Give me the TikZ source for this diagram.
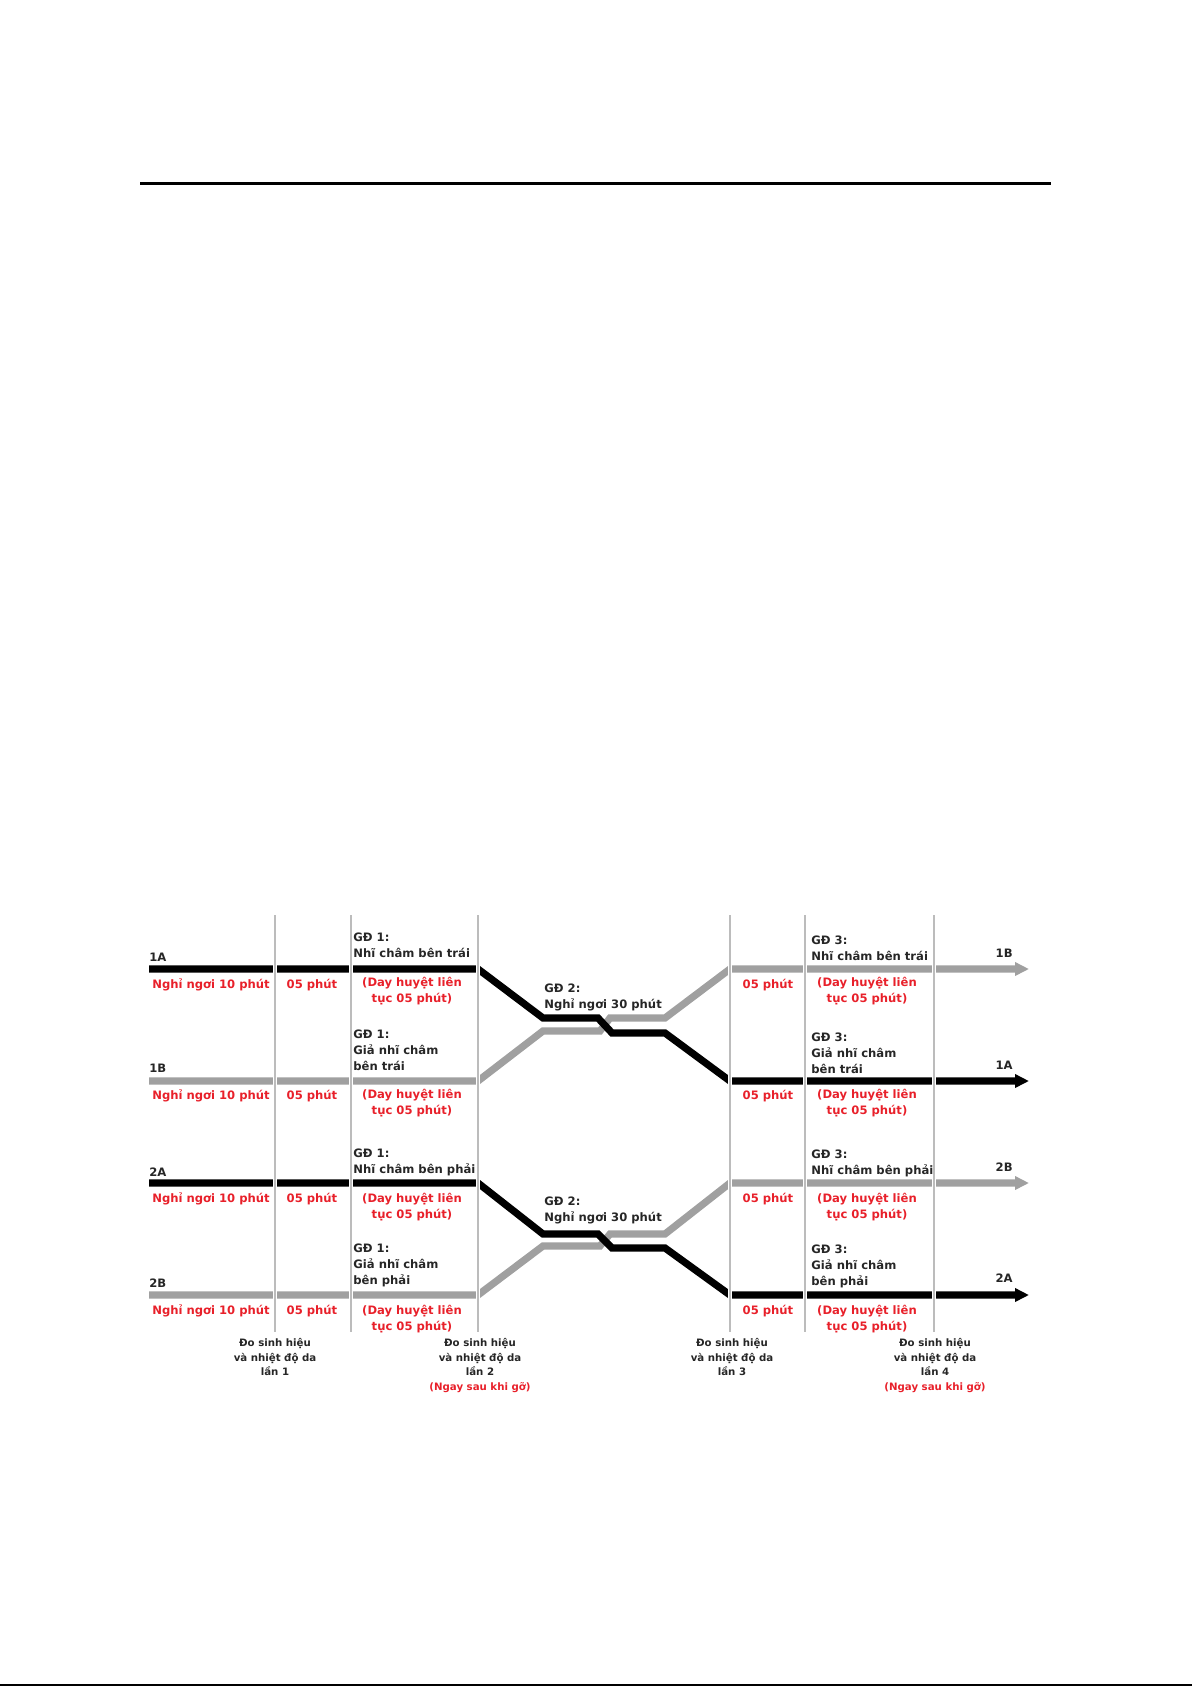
\documentclass[tikz,border=0pt]{standalone}
\usepackage{fontspec}
\setmainfont{DejaVu Sans}
\usetikzlibrary{arrows.meta}
\definecolor{noteRed}{RGB}{232,32,42}
\definecolor{lineGray}{RGB}{160,160,160}
\definecolor{ruleGray}{RGB}{188,188,188}
\newcommand{\chartfont}{\bfseries\fontsize{5.8}{8}\selectfont}
\newcommand{\footfont}{\bfseries\fontsize{5.1}{7.3}\selectfont}

\begin{document}
\begin{tikzpicture}[x=0.5pt, y=-0.5pt]
  \tikzstyle{txt} = [font=\chartfont, inner sep=0pt, text=black!85]
  \tikzstyle{tag} = [txt, anchor=base west]
  \tikzstyle{endtag} = [txt, anchor=base east]
  \tikzstyle{phase} = [txt, align=left, anchor=north west]
  \tikzstyle{note} = [txt, text=noteRed, align=center]
  \tikzstyle{foot} = [txt, font=\footfont, align=center, anchor=north]
  \tikzstyle{blk} = [line width=3.6pt, draw=black]
  \tikzstyle{gry} = [line width=3.6pt, draw=lineGray]
  \tikzstyle{head} = [-{Triangle[length=7pt, width=6.5pt]}]
  \tikzstyle{vline} = [draw=ruleGray, line width=1pt, preaction={draw=white, line width=2.4pt}]

  \useasboundingbox (0,0) rectangle (1192,1686);
  \draw [line width=1.5pt] (140,183) -- (1051,183);
  \draw [line width=1pt] (0,1685) -- (1192,1685);

  % row ends
  \coordinate (r1w) at (149,969);  \coordinate (r1m) at (478,969);  \coordinate (r1n) at (730,969);  \coordinate (r1e) at (1029,969);
  \coordinate (r2w) at (149,1081); \coordinate (r2m) at (478,1081); \coordinate (r2n) at (730,1081); \coordinate (r2e) at (1029,1081);
  \coordinate (r3w) at (149,1183); \coordinate (r3m) at (478,1183); \coordinate (r3n) at (730,1183); \coordinate (r3e) at (1029,1183);
  \coordinate (r4w) at (149,1295); \coordinate (r4m) at (478,1295); \coordinate (r4n) at (730,1295); \coordinate (r4e) at (1029,1295);

  % group 1
  \draw [gry, head] (r2w) -- (r2m) -- ++(65,-50) -- ++(57,0) -- ++(10,-13) -- ++(55,0) -- (r1n) -- (r1e);
  \draw [blk, head] (r1w) -- (r1m) -- ++(65,49) -- ++(55,0) -- ++(14,15) -- ++(53,0) -- (r2n) -- (r2e);
  % group 2
  \draw [gry, head] (r4w) -- (r4m) -- ++(65,-49) -- ++(57,0) -- ++(10,-12) -- ++(55,0) -- (r3n) -- (r3e);
  \draw [blk, head] (r3w) -- (r3m) -- ++(65,51) -- ++(55,0) -- ++(14,14) -- ++(53,0) -- (r4n) -- (r4e);

  \draw [vline] (275,915) -- (275,1332);
  \draw [vline] (351,915) -- (351,1332);
  \draw [vline] (478,915) -- (478,1332);
  \draw [vline] (730,915) -- (730,1332);
  \draw [vline] (805,915) -- (805,1332);
  \draw [vline] (934,915) -- (934,1332);

  % tags
  \node (t1a) [tag] at (149,961) {1A};
  \node (t1b) [tag] at (149,1072) {1B};
  \node (t2a) [tag] at (149,1176) {2A};
  \node (t2b) [tag] at (149,1287) {2B};
  \node (e1b) [endtag] at (1013,957) {1B};
  \node (e1a) [endtag] at (1013,1069) {1A};
  \node (e2b) [endtag] at (1013,1171) {2B};
  \node (e2a) [endtag] at (1013,1282) {2A};

  % phases
  \node (p1a) [phase] at (353,932) {GĐ 1:\\Nhĩ châm bên trái};
  \node (p1b) [phase] at (353,1029) {GĐ 1:\\Giả nhĩ châm\\bên trái};
  \node (p2a) [phase] at (353,1148) {GĐ 1:\\Nhĩ châm bên phải};
  \node (p2b) [phase] at (353,1243) {GĐ 1:\\Giả nhĩ châm\\bên phải};
  \node (q1) [phase] at (544,983) {GĐ 2:\\Nghỉ ngơi 30 phút};
  \node (q2) [phase] at (544,1196) {GĐ 2:\\Nghỉ ngơi 30 phút};
  \node (s1b) [phase] at (811,935) {GĐ 3:\\Nhĩ châm bên trái};
  \node (s1a) [phase] at (811,1032) {GĐ 3:\\Giả nhĩ châm\\bên trái};
  \node (s2b) [phase] at (811,1149) {GĐ 3:\\Nhĩ châm bên phải};
  \node (s2a) [phase] at (811,1244) {GĐ 3:\\Giả nhĩ châm\\bên phải};

  % red notes, left
  \node (n1) [note] at (211,985) {Nghỉ ngơi 10 phút};
  \node (n2) [note] at (211,1096) {Nghỉ ngơi 10 phút};
  \node (n3) [note] at (211,1199) {Nghỉ ngơi 10 phút};
  \node (n4) [note] at (211,1311) {Nghỉ ngơi 10 phút};
  \node (m1) [note] at (312,985) {05 phút};
  \node (m2) [note] at (312,1096) {05 phút};
  \node (m3) [note] at (312,1199) {05 phút};
  \node (m4) [note] at (312,1311) {05 phút};
  \node (d1) [note] at (412,991) {(Day huyệt liên\\tục 05 phút)};
  \node (d2) [note] at (412,1103) {(Day huyệt liên\\tục 05 phút)};
  \node (d3) [note] at (412,1207) {(Day huyệt liên\\tục 05 phút)};
  \node (d4) [note] at (412,1319) {(Day huyệt liên\\tục 05 phút)};
  % red notes, right
  \node (k1) [note] at (768,985) {05 phút};
  \node (k2) [note] at (768,1096) {05 phút};
  \node (k3) [note] at (768,1199) {05 phút};
  \node (k4) [note] at (768,1311) {05 phút};
  \node (f1) [note] at (867,991) {(Day huyệt liên\\tục 05 phút)};
  \node (f2) [note] at (867,1103) {(Day huyệt liên\\tục 05 phút)};
  \node (f3) [note] at (867,1207) {(Day huyệt liên\\tục 05 phút)};
  \node (f4) [note] at (867,1319) {(Day huyệt liên\\tục 05 phút)};

  % measurements
  \node (o1) [foot] at (275,1338) {Đo sinh hiệu\\và nhiệt độ da\\lần 1};
  \node (o2) [foot] at (480,1338) {Đo sinh hiệu\\và nhiệt độ da\\lần 2\\\textcolor{noteRed}{(Ngay sau khi gỡ)}};
  \node (o3) [foot] at (732,1338) {Đo sinh hiệu\\và nhiệt độ da\\lần 3};
  \node (o4) [foot] at (935,1338) {Đo sinh hiệu\\và nhiệt độ da\\lần 4\\\textcolor{noteRed}{(Ngay sau khi gỡ)}};
\end{tikzpicture}
\end{document}
